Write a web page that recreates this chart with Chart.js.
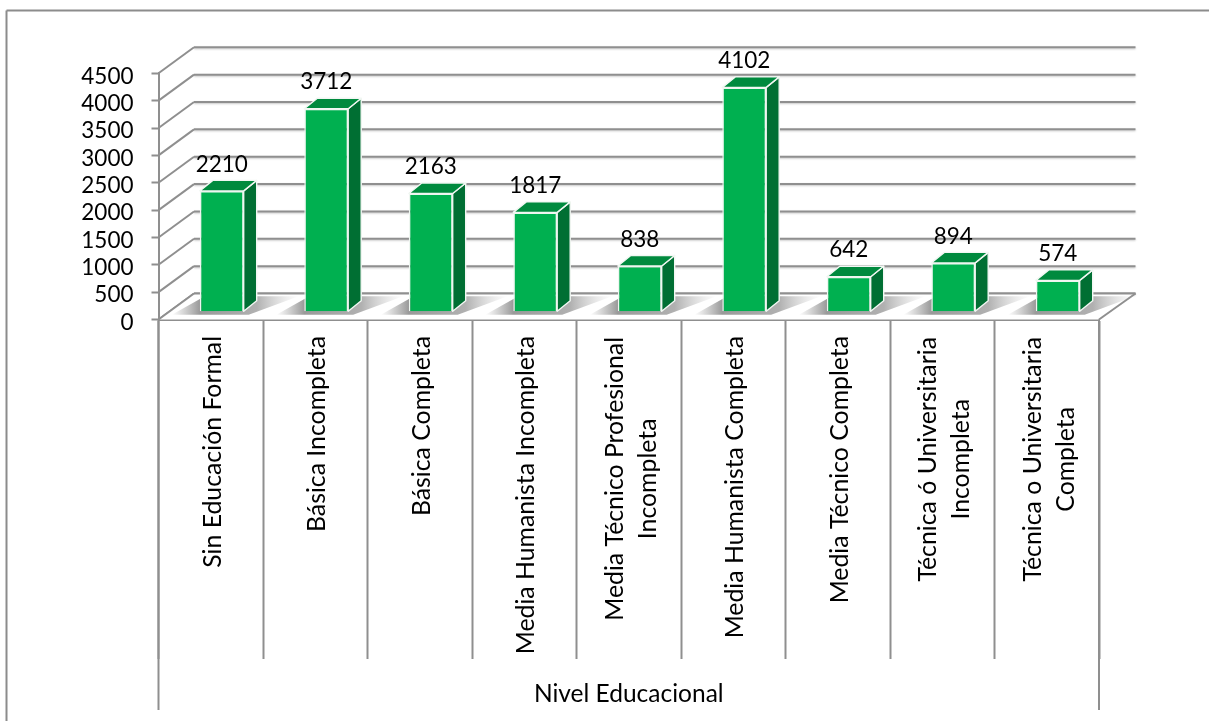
<!DOCTYPE html>
<html>
<head>
<meta charset="utf-8">
<style>html,body{margin:0;padding:0;background:#fff}#w{width:1209px;height:721px;position:relative}</style>
<script src="https://cdn.jsdelivr.net/npm/chart.js@4"></script>
</head>
<body>
<div id="w"><canvas id="c" width="1209" height="721"></canvas></div>
<script>
const categories = [
  "Sin Educación Formal",
  "Básica Incompleta",
  "Básica Completa",
  "Media Humanista Incompleta",
  ["Media Técnico Profesional", "Incompleta"],
  "Media Humanista Completa",
  "Media Técnico Completa",
  ["Técnica ó Universitaria", "Incompleta"],
  ["Técnica o Universitaria", "Completa"]
];
const values = [2210, 3712, 2163, 1817, 838, 4102, 642, 894, 574];
const axisTitle = "Nivel Educacional";
const yMax = 4500;
const yStep = 500;

const FONT = 'Lato, Carlito, sans-serif';
const GRID = '#8f8f8f';
const WALL = {dx: 35.5, dy: -26};
const BAR_SHIFT = {dx: 11, dy: -7.7};
const DEPTH = {dx: 13, dy: -10.5};

function line(ctx, x1, y1, x2, y2) {
  ctx.beginPath(); ctx.moveTo(x1, y1); ctx.lineTo(x2, y2); ctx.stroke();
}
function poly(ctx, pts, fill, stroke) {
  ctx.beginPath();
  pts.forEach((p, i) => i ? ctx.lineTo(p[0], p[1]) : ctx.moveTo(p[0], p[1]));
  ctx.closePath();
  if (fill) { ctx.fillStyle = fill; ctx.fill(); }
  if (stroke) { ctx.strokeStyle = stroke; ctx.lineWidth = 1.4; ctx.lineJoin = 'round'; ctx.stroke(); }
}

const scene = {
  id: 'scene',
  beforeDraw(chart) {
    // label placement: two-line category labels have lines centred within their block
    const {ctx, chartArea, scales: {x, y}} = chart;
    const items = x.getLabelItems(chartArea);
    if (items._placed) return;
    items._placed = true;
    ctx.save();
    items.forEach(it => {
      const t = it.options.translation;
      if (Array.isArray(it.label)) {
        ctx.font = it.font.string;
        const w = Math.max(...it.label.map(s => ctx.measureText(s).width));
        it.options.textAlign = 'center';
        it.options.translation = [t[0] - 14, t[1] + w / 2 + 2];
      } else {
        it.options.translation = [t[0] + 2, t[1] + 1];
      }
    });
    y.getLabelItems(chartArea).forEach(it => {
      const t = it.options.translation;
      it.options.translation = [t[0], t[1] + 3];
    });
    ctx.restore();
  },
  beforeDatasetsDraw(chart) {
    const {ctx, scales: {x, y}} = chart;
    const L = x.left, R = x.right, zero = y.getPixelForValue(0);
    ctx.save();
    // outer frame (left and top edges)
    ctx.strokeStyle = '#8c8c8c'; ctx.lineWidth = 2;
    line(ctx, 6.5, 10.5, 6.5, 721);
    line(ctx, 6.5, 10.5, 1209, 10.5);
    // back wall and side wall grid
    ctx.strokeStyle = GRID; ctx.lineWidth = 2;
    ctx.shadowColor = 'rgba(0,0,0,0.22)'; ctx.shadowBlur = 2; ctx.shadowOffsetY = 1;
    y.ticks.forEach(t => {
      const py = y.getPixelForValue(t.value);
      line(ctx, L + WALL.dx, py + WALL.dy, R + WALL.dx + 1, py + WALL.dy);
    });
    ctx.shadowColor = 'transparent';
    y.ticks.forEach(t => {
      const py = y.getPixelForValue(t.value);
      line(ctx, L, py, L + WALL.dx, py + WALL.dy);
    });
    // floor
    poly(ctx, [[L, zero], [R, zero], [R + WALL.dx + 1, zero + WALL.dy], [L + WALL.dx, zero + WALL.dy]], '#ffffff');
    line(ctx, L + WALL.dx, zero + WALL.dy, R + WALL.dx + 1, zero + WALL.dy);
    line(ctx, R, zero, R + WALL.dx + 1, zero + WALL.dy);
    line(ctx, L, zero, L + WALL.dx, zero + WALL.dy);
    // long outer separators of the axis
    ctx.lineWidth = 2;
    line(ctx, L, zero, L, 710);
    line(ctx, R, zero, R, 710);
    // bar shadows on the floor, then side and top faces
    const meta = chart.getDatasetMeta(0);
    meta.data.forEach(b => {
      const bx = b.x + BAR_SHIFT.dx, top = b.y + BAR_SHIFT.dy, base = b.base + BAR_SHIFT.dy;
      const l = bx - b.width / 2, r = bx + b.width / 2;
      const g = ctx.createLinearGradient(l - 28, 0, r + 55, 0);
      g.addColorStop(0, 'rgba(130,130,130,0)');
      g.addColorStop(0.22, 'rgba(120,120,120,0.75)');
      g.addColorStop(0.67, 'rgba(150,150,150,0.75)');
      g.addColorStop(1, 'rgba(190,190,190,0)');
      poly(ctx, [[l - 28, base + 3.5], [r + 5, base + 3.5], [r + 55, base - 15], [l + 5, base - 15]], g);
      const d = DEPTH;
      poly(ctx, [[r, top], [r + d.dx, top + d.dy], [r + d.dx, base + d.dy], [r, base]], '#006F33', '#f2f7f3');
      poly(ctx, [[l, top], [l + d.dx, top + d.dy], [r + d.dx, top + d.dy], [r, top]], '#008A3E', '#f2f7f3');
    });
    ctx.restore();
    // the front faces are drawn by the library, moved into the bar plane
    ctx.save();
    ctx.translate(BAR_SHIFT.dx, BAR_SHIFT.dy);
  },
  afterDatasetsDraw(chart) {
    const {ctx} = chart;
    ctx.restore();
    ctx.save();
    ctx.font = '22.5px ' + FONT;
    ctx.fillStyle = '#000';
    ctx.textAlign = 'center';
    ctx.textBaseline = 'middle';
    chart.getDatasetMeta(0).data.forEach((b, i) => {
      ctx.fillText(String(values[i]), b.x + BAR_SHIFT.dx, b.y + BAR_SHIFT.dy - 26.5);
    });
    ctx.restore();
  }
};

new Chart(document.getElementById('c'), {
  type: 'bar',
  data: {
    labels: categories,
    datasets: [{
      data: values,
      backgroundColor: '#00B050',
      borderColor: '#eef6f0',
      borderWidth: 1.5,
      barPercentage: 0.42,
      categoryPercentage: 1
    }]
  },
  plugins: [scene],
  options: {
    responsive: false,
    animation: false,
    events: [],
    layout: {padding: {left: 0, right: 110, top: 73.3, bottom: 0}},
    plugins: {legend: {display: false}, tooltip: {enabled: false}},
    scales: {
      x: {
        type: 'category',
        offset: true,
        afterFit(s) { s.height = 401.5; },
        grid: {display: true, offset: true, drawOnChartArea: false, drawTicks: true, tickLength: 339.5, tickColor: GRID, tickWidth: 2},
        border: {display: true, color: GRID, width: 2},
        ticks: {
          autoSkip: false, minRotation: 90, maxRotation: 90, padding: -324,
          color: '#000', font: {family: FONT, size: 24.8, lineHeight: 1.33}
        },
        title: {display: true, text: axisTitle, color: '#000', font: {family: FONT, size: 24.5}, padding: {top: 0, bottom: 12}}
      },
      y: {
        min: 0, max: yMax,
        afterFit(s) { s.width = 158.5; },
        grid: {display: true, drawOnChartArea: false, drawTicks: true, tickLength: 7, tickColor: GRID, tickWidth: 2},
        border: {display: true, color: GRID, width: 2},
        ticks: {stepSize: yStep, autoSkip: false, padding: 18, color: '#000', font: {family: FONT, size: 22.5},
          callback(v) { return String(v); }}
      }
    }
  }
});
</script>
</body>
</html>
